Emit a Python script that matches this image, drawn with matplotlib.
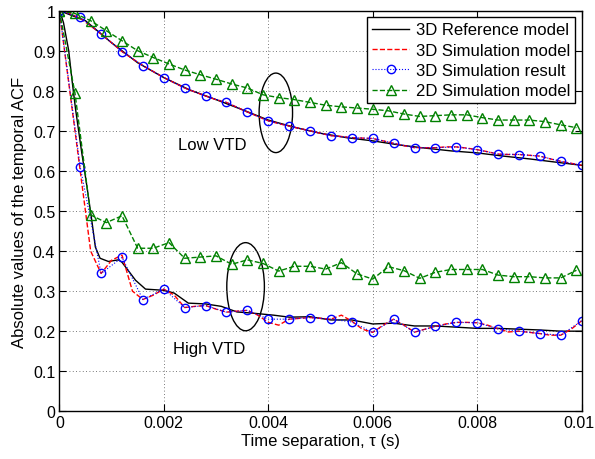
import matplotlib
matplotlib.use("Agg")
import matplotlib.pyplot as plt
from matplotlib.patches import Ellipse
from matplotlib.transforms import ScaledTranslation

plt.rcParams['font.family'] = ['Liberation Sans', 'DejaVu Sans']

# ---- data ----
# 3D reference model (black)
ref_low_t = [0, 0.0005, 0.001, 0.0015, 0.002, 0.0025, 0.003, 0.0035, 0.004, 0.0045,
             0.005, 0.0055, 0.006, 0.0065, 0.007, 0.0075, 0.008, 0.0085, 0.009, 0.0095, 0.01]
ref_low = [1.0, 0.975, 0.92, 0.87, 0.833, 0.802, 0.778, 0.753, 0.727, 0.709,
           0.694, 0.683, 0.675, 0.665, 0.657, 0.650, 0.645, 0.637, 0.630, 0.622, 0.614]

ref_high_t = [0, 0.00002, 0.00008, 0.00018, 0.00024, 0.00031, 0.00037, 0.00043, 0.00053, 0.00062,
              0.00069, 0.00078, 0.00094, 0.00113, 0.0012, 0.00146, 0.00165, 0.002, 0.0022, 0.00247,
              0.0028, 0.0031, 0.0034, 0.0037, 0.0041, 0.0044, 0.0048, 0.0052, 0.0056, 0.006,
              0.0064, 0.0068, 0.0072, 0.0076, 0.008, 0.0084, 0.0088, 0.0092, 0.0096, 0.01]
ref_high = [1.0, 0.995, 0.97, 0.90, 0.83, 0.755, 0.70, 0.645, 0.56, 0.478,
            0.41, 0.382, 0.374, 0.378, 0.372, 0.327, 0.305, 0.302, 0.295, 0.27,
            0.268, 0.262, 0.248, 0.245, 0.24, 0.235, 0.236, 0.228, 0.228, 0.218,
            0.22, 0.213, 0.213, 0.21, 0.207, 0.207, 0.205, 0.203, 0.20, 0.20]

# 3D simulation model (red dashed), step 0.0002
sim_t = [i * 0.0002 for i in range(51)]
sim_low = [1.0, 0.993, 0.981, 0.962, 0.942, 0.92, 0.898, 0.88, 0.863, 0.848,
           0.833, 0.82, 0.807, 0.797, 0.787, 0.778, 0.771, 0.759, 0.747, 0.736,
           0.725, 0.718, 0.712, 0.706, 0.70, 0.694, 0.688, 0.686, 0.683, 0.682,
           0.681, 0.675, 0.669, 0.663, 0.658, 0.658, 0.658, 0.66, 0.66, 0.657,
           0.653, 0.648, 0.642, 0.641, 0.641, 0.639, 0.637, 0.63, 0.624, 0.619, 0.614]
sim_high = [1.0, 0.80, 0.60, 0.40, 0.344, 0.377, 0.39, 0.30, 0.279, 0.29,
            0.305, 0.29, 0.259, 0.262, 0.264, 0.255, 0.2475, 0.25, 0.252, 0.24,
            0.222, 0.215, 0.23, 0.232, 0.234, 0.232, 0.23, 0.24, 0.225, 0.205,
            0.197, 0.215, 0.23, 0.215, 0.1975, 0.205, 0.212, 0.218, 0.222, 0.222,
            0.221, 0.215, 0.206, 0.198, 0.20, 0.197, 0.194, 0.19, 0.19, 0.205, 0.226]

# 3D simulation result (blue circles), step 0.0004
res_t = [i * 0.0004 for i in range(26)]
res_low = [1.0, 0.983, 0.942, 0.898, 0.863, 0.833, 0.807, 0.787, 0.771, 0.747,
           0.725, 0.712, 0.70, 0.688, 0.683, 0.681, 0.669, 0.658, 0.658, 0.66,
           0.653, 0.642, 0.641, 0.637, 0.624, 0.614]
res_high = [1.0, 0.61, 0.344, 0.384, 0.279, 0.305, 0.259, 0.264, 0.2475, 0.252,
            0.23, 0.23, 0.234, 0.23, 0.223, 0.197, 0.23, 0.1975, 0.212, 0.222,
            0.221, 0.206, 0.20, 0.194, 0.19, 0.226]

# 2D simulation model (green triangles), step 0.0003
tri_t = [i * 0.0003 for i in range(34)]
tri_low = [1.0, 0.993, 0.975, 0.95, 0.925, 0.90, 0.883, 0.867, 0.852, 0.84,
           0.829, 0.817, 0.807, 0.79, 0.783, 0.778, 0.771, 0.764, 0.76, 0.757,
           0.754, 0.75, 0.742, 0.736, 0.738, 0.74, 0.74, 0.733, 0.727, 0.727,
           0.727, 0.723, 0.715, 0.708]
tri_high = [1.0, 0.794, 0.49, 0.471, 0.488, 0.407, 0.407, 0.421, 0.382, 0.385,
            0.388, 0.367, 0.378, 0.369, 0.35, 0.362, 0.362, 0.355, 0.371, 0.343,
            0.33, 0.361, 0.351, 0.332, 0.347, 0.354, 0.354, 0.354, 0.34, 0.336,
            0.336, 0.333, 0.333, 0.352]

xticks = [0, 0.002, 0.004, 0.006, 0.008, 0.01]
xticklabels = ['0', '0.002', '0.004', '0.006', '0.008', '0.01']
yticks = [0, 0.1, 0.2, 0.3, 0.4, 0.5, 0.6, 0.7, 0.8, 0.9, 1]
yticklabels = ['0', '0.1', '0.2', '0.3', '0.4', '0.5', '0.6', '0.7', '0.8', '0.9', '1']

green = '#008000'

fig = plt.figure(figsize=(5.95, 4.6), dpi=100)
ax = fig.add_axes([0.0997, 0.1037, 0.8779, 0.8709])

# low VTD
ax.plot(ref_low_t, ref_low, 'k-', lw=1.0, label='3D Reference model')
ax.plot(sim_t, sim_low, 'r--', lw=1.0, label='3D Simulation model')
ax.plot(res_t, res_low, color='b', ls=':', lw=0.8, marker='o', ms=6,
        mfc='none', mec='b', mew=1.0, label='3D Simulation result')
ax.plot(tri_t, tri_low, color=green, ls='--', lw=1.0, marker='^', ms=6.5,
        mfc='none', mec=green, mew=1.0, label='2D Simulation model')

# high VTD
ax.plot(ref_high_t, ref_high, 'k-', lw=1.0)
ax.plot(sim_t, sim_high, 'r--', lw=1.0)
ax.plot(res_t, res_high, color='b', ls=':', lw=0.8, marker='o', ms=6,
        mfc='none', mec='b', mew=1.0)
ax.plot(tri_t, tri_high, color=green, ls='--', lw=1.0, marker='^', ms=6.5,
        mfc='none', mec=green, mew=1.0)

# ellipses marking the groups
ax.add_patch(Ellipse((0.004145, 0.745), 0.00064, 0.1985, fill=False, ec='k', lw=1.0))
ax.add_patch(Ellipse((0.003566, 0.311), 0.00072, 0.22, fill=False, ec='k', lw=1.0))

ax.text(0.00292, 0.665, 'Low VTD', fontsize=12, ha='center', va='center')
ax.text(0.00286, 0.157, 'High VTD', fontsize=12, ha='center', va='center')

ax.set_xlim(0, 0.01)
ax.set_ylim(0, 1)
ax.set_xticks(xticks)
ax.set_xticklabels(xticklabels)
ax.set_yticks(yticks)
ax.set_yticklabels(yticklabels)
ax.tick_params(direction='in', top=True, right=True, length=5, labelsize=11.5, pad=3)
ax.grid(True, color='0.3', ls=(0, (1, 3)), lw=0.6)
for s in ax.spines.values():
    s.set_linewidth(1.0)

# nudge the last x label so it stays inside the figure
last = ax.get_xticklabels()[-1]
last.set_transform(last.get_transform() + ScaledTranslation(-3 / 100, 0, fig.dpi_scale_trans))

ax.set_xlabel('Time separation, τ (s)', fontsize=12, labelpad=2)
ax.set_ylabel('Absolute values of the temporal ACF', fontsize=12, labelpad=4)

leg = ax.legend(loc='upper right', fontsize=12, frameon=True, fancybox=False,
                edgecolor='k', framealpha=1, borderaxespad=0.4, handlelength=2.2,
                labelspacing=0.32, borderpad=0.3, handletextpad=0.4, numpoints=1)
leg.get_frame().set_linewidth(1.0)

fig.savefig('out.png', dpi=100)
